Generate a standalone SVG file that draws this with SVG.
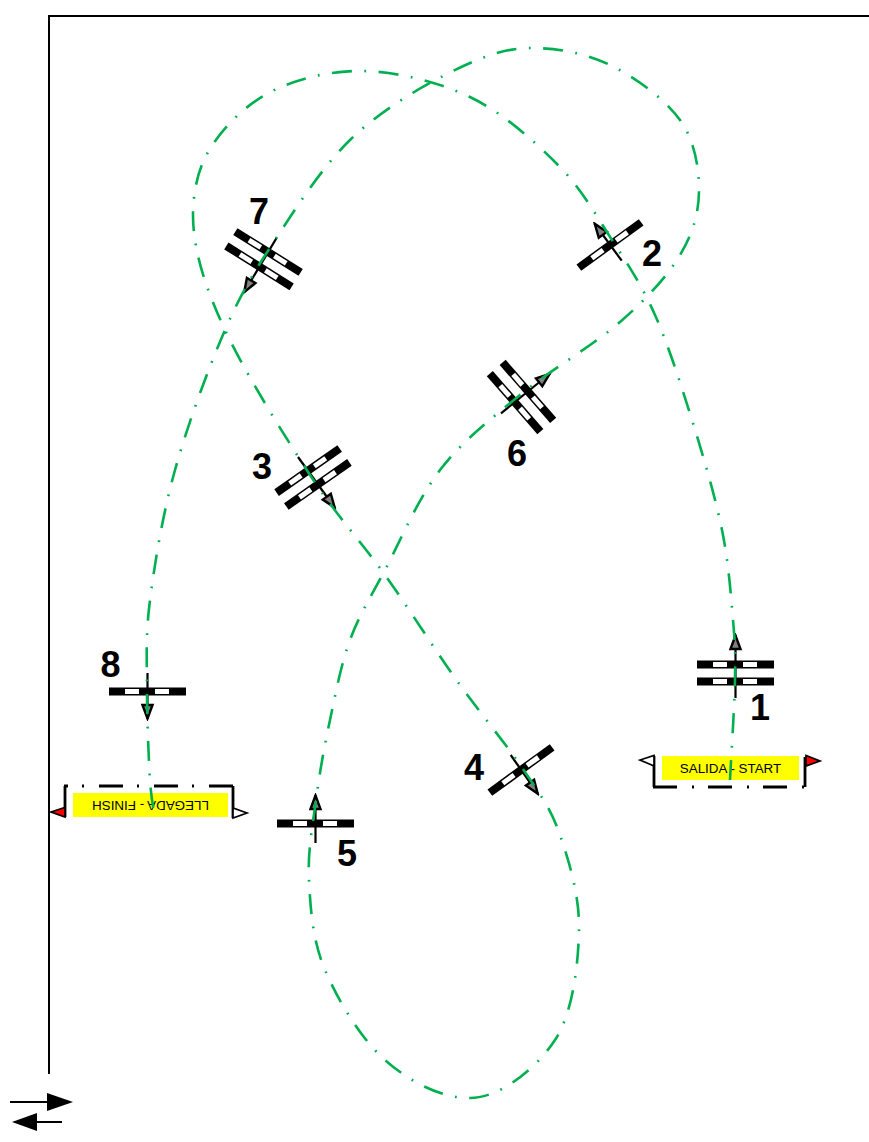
<svg xmlns="http://www.w3.org/2000/svg" width="869" height="1142" viewBox="0 0 869 1142">
<style>
.frame{fill:none;stroke:#000;stroke-width:2}
.route{fill:none;stroke:#00B050;stroke-width:2.6;stroke-dasharray:20 12.5 1.8 12.5}
.arrow{fill:none;stroke:#000;stroke-width:2.2;marker-end:url(#head)}
.num{font-family:"Liberation Sans",Arial,sans-serif;font-weight:700;font-size:36px;fill:#000;text-anchor:middle}
.lab{font-family:"Liberation Sans",Arial,sans-serif;font-size:13.4px;fill:#000;text-anchor:middle}
.edge{fill:none;stroke:#000;stroke-width:2.8}
.dd{fill:none;stroke:#000;stroke-width:2.8;stroke-dasharray:24 15 2 14}
.flag{stroke:#000;stroke-width:1.7}
</style>
<defs>
<marker id="head" markerUnits="userSpaceOnUse" markerWidth="18" markerHeight="14" refX="16" refY="7" orient="auto">
<path d="M2 2L15.5 7L2 12Z" fill="#808080" stroke="#000" stroke-width="2.4"/>
</marker>
<g id="bar">
<rect x="-38.5" y="-4" width="77" height="8" fill="#000"/>
<rect x="-22.5" y="-2.5" width="14" height="5" fill="#fff"/>
<rect x="7.5" y="-2.5" width="14" height="5" fill="#fff"/>
</g>
<g id="bar2">
<use href="#bar" y="-8.5"/>
<use href="#bar" y="8.5"/>
</g>
</defs>
<g id="frame">
<path class="frame" d="M49 1074V16H869"/>
<path d="M10 1102H50" class="frame"/><path d="M47 1093L73 1102L47 1111Z"/>
<path d="M62 1122H37" class="frame"/><path d="M37 1113L12 1122L37 1131Z"/>
</g>
<g id="start">
<rect x="662" y="756" width="137" height="24" fill="#ff0"/>
<text class="lab" x="730.5" y="773">SALIDA - START</text>
<path class="edge" d="M654 756V787M805 757V787"/>
<path class="dd" d="M653 787H806"/>
<path class="flag" fill="#fff" d="M654 755.5V766L640 760Z"/>
<path class="flag" fill="#f00" d="M806 755.5V766L820 761Z"/>
</g>
<g id="finish">
<rect x="73" y="793" width="155" height="24" fill="#ff0"/>
<text class="lab" transform="translate(150.5 800.5) rotate(180)">LLEGADA - FINISH</text>
<path class="edge" d="M65 786V817M233 786V818"/>
<path class="dd" d="M233 786H64"/>
<path class="flag" fill="#f00" d="M65 807.5V817L51 812Z"/>
<path class="flag" fill="#fff" d="M233 808V818L247 813Z"/>
</g>
<g id="gate1"><use href="#bar2" transform="translate(735.5 673)"/><path class="arrow" d="M735.5 698V635"/><text class="num" x="760" y="720">1</text></g>
<g id="gate2"><use href="#bar" transform="translate(610 245) rotate(-36)"/><path class="arrow" d="M621.7 260.7L594.5 223.5"/><text class="num" x="652" y="266">2</text></g>
<g id="gate3"><use href="#bar2" transform="translate(313 477.5) rotate(-35)"/><path class="arrow" d="M298 457L335 508"/><text class="num" x="262" y="479">3</text></g>
<g id="gate4"><use href="#bar" transform="translate(521 770) rotate(-36)"/><path class="arrow" d="M510.7 755L538 794"/><text class="num" x="474" y="780">4</text></g>
<g id="gate5"><use href="#bar" transform="translate(315.5 823.5)"/><path class="arrow" d="M315.5 843V795"/><text class="num" x="347" y="866">5</text></g>
<g id="gate6"><use href="#bar2" transform="translate(521.5 397) rotate(49)"/><path class="arrow" d="M501 413.3L550 373.5"/><text class="num" x="517" y="466">6</text></g>
<g id="gate7"><use href="#bar2" transform="translate(263.5 259.2) rotate(32)"/><path class="arrow" d="M276.7 237.7L244 292.5"/><text class="num" x="259" y="224">7</text></g>
<g id="gate8"><use href="#bar" transform="translate(147.5 691.5)"/><path class="arrow" d="M147.5 673V719"/><text class="num" x="110.5" y="677">8</text></g>
<g id="connectors">
<path class="route" d="M730 780C730.8 763 734.5 706.7 735 680C735.5 653.3 735.2 645 733 620C730.8 595 728.8 563.3 722 530C715.2 496.7 703.2 455.8 692 420C680.8 384.2 668.3 345 655 315C641.7 285 628.2 265 612 240C595.8 215 581.7 188.8 558 165C534.3 141.2 503 112.7 470 97C437 81.3 394.2 71 360 71C325.8 71 290.8 80.2 265 95C239.2 109.8 215 136 204 160C197 175 193 195 193 215C193 250 205.5 288.3 225 330C244.5 371.7 283.3 434.2 310 475C336.7 515.8 360.8 541.2 385 575C409.2 608.8 431.7 645.2 455 678C478.3 710.8 507.5 745.8 525 772C542.5 798.2 551 808.7 560 835C569 861.3 579.8 895.8 579 930C578.2 964.2 573.2 1012 555 1040C536.8 1068 500 1098 470 1098C440 1098 409.2 1081.3 385 1060C360.8 1038.7 337.7 1000 325 970C312.3 940 310.5 908.3 309 880C307.5 851.7 312.5 826.7 316 800C319.5 773.3 324.3 746.7 330 720C335.7 693.3 340.8 665 350 640C359.2 615 370 598.3 385 570C400 541.7 417.5 499.2 440 470C462.5 440.8 490 419.7 520 395C550 370.3 593.3 345.3 620 322C646.7 298.7 666.8 277 680 255C693.2 233 699 212.5 699 190C699 167.5 694.8 140.8 680 120C665.2 99.2 635 77 610 65C585 53 557.5 48 530 48C502.5 48 475 59.7 445 75C415 90.3 378.3 112.5 350 140C321.7 167.5 295.8 208.3 275 240C254.2 271.7 241.7 291.7 225 330C208.3 368.3 187.5 425 175 470C162.5 515 154.7 563.3 150 600C145.3 636.7 147 660 147 690C147 720 148.7 758.8 150 780C151.3 801.2 154.2 811 155 817"/>
</g>
</svg>
